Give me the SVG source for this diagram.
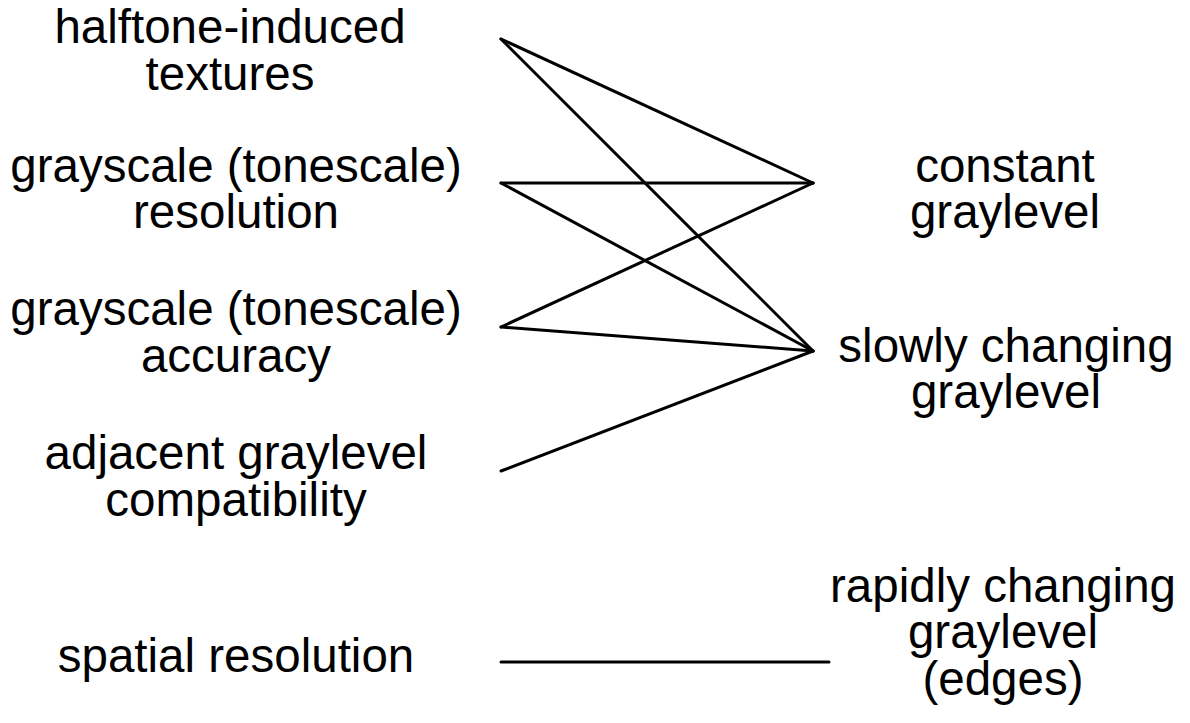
<svg xmlns="http://www.w3.org/2000/svg" width="1190" height="723" viewBox="0 0 1190 723">
<style>
text{font-family:"Liberation Sans",Arial,sans-serif;font-size:47.5px;fill:#000;text-anchor:middle}
.c line{stroke:#000;stroke-width:3;stroke-linecap:round}
</style>
<rect width="1190" height="723" fill="#fff"/>
<g id="n-halftone"><text x="230" y="43">halftone-induced</text><text x="230" y="90">textures</text></g>
<g id="n-grayres"><text x="236" y="182">grayscale (tonescale)</text><text x="236" y="228">resolution</text></g>
<g id="n-grayacc"><text x="236" y="325">grayscale (tonescale)</text><text x="236" y="372">accuracy</text></g>
<g id="n-adjacent"><text x="236" y="469">adjacent graylevel</text><text x="236" y="516">compatibility</text></g>
<g id="n-spatial"><text x="236" y="672">spatial resolution</text></g>
<g id="n-constant"><text x="1005" y="182">constant</text><text x="1005" y="228">graylevel</text></g>
<g id="n-slowly"><text x="1006" y="362">slowly changing</text><text x="1006" y="408">graylevel</text></g>
<g id="n-rapidly"><text x="1003" y="602">rapidly changing</text><text x="1003" y="648">graylevel</text><text x="1003" y="695">(edges)</text></g>
<g class="c" id="connectors">
<line x1="501" y1="39" x2="813" y2="183"/>
<line x1="501" y1="39" x2="813" y2="351"/>
<line x1="501" y1="183" x2="813" y2="183"/>
<line x1="501" y1="183" x2="813" y2="351"/>
<line x1="501" y1="327" x2="813" y2="183"/>
<line x1="501" y1="327" x2="813" y2="351"/>
<line x1="501" y1="471" x2="813" y2="351"/>
<line x1="501" y1="662" x2="829" y2="662"/>
</g>
</svg>
